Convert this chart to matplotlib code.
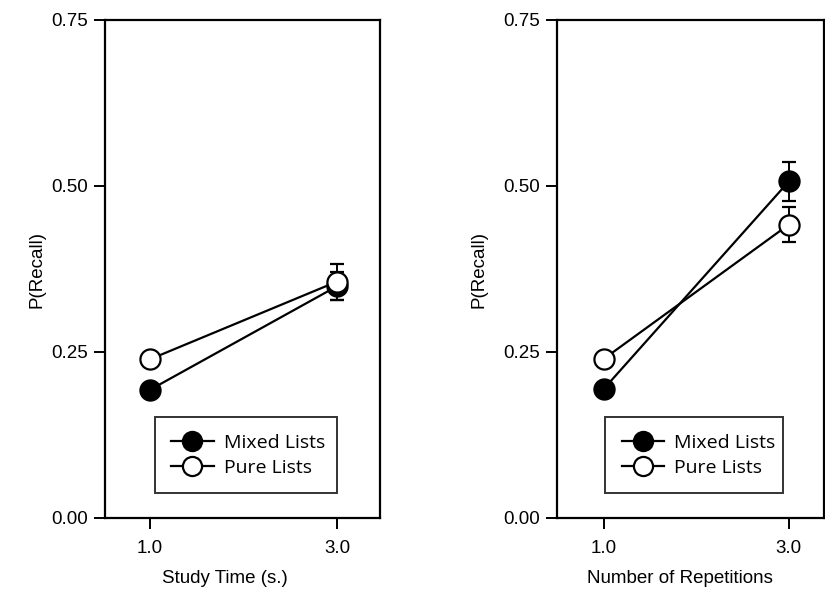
import numpy as np
import matplotlib
matplotlib.use("Agg")
import matplotlib.pyplot as plt

plt.rcParams['font.family'] = ['Liberation Sans', 'DejaVu Sans']

x_vals = [1.0, 3.0]
x_ticklabels = ['1.0', '3.0']
y_ticks = [0.00, 0.25, 0.50, 0.75]

# panel 1: study time
time_mixed = [0.193, 0.349]
time_mixed_err = [0.0, 0.021]
time_pure = [0.239, 0.356]
time_pure_err = [0.0, 0.027]

# panel 2: repetitions
rep_mixed = [0.195, 0.507]
rep_mixed_err = [0.0, 0.029]
rep_pure = [0.240, 0.442]
rep_pure_err = [0.0, 0.027]

xlabels = ['Study Time (s.)', 'Number of Repetitions']
legend_labels = ['Mixed Lists', 'Pure Lists']


def panel(ax, mixed, mixed_err, pure, pure_err, xlabel, xlim, pure_on_top, xlab_x, ylab_x):
    zp, zm = (5, 4) if pure_on_top else (3, 4)
    ax.errorbar(x_vals, pure, yerr=pure_err, color='black', marker='o', ms=14.5,
                mfc='white', mec='black', mew=1.6, lw=1.6, capsize=5, elinewidth=1.4,
                capthick=1.4, label=legend_labels[1], zorder=zp)
    ax.errorbar(x_vals, mixed, yerr=mixed_err, color='black', marker='o', ms=14.5,
                mfc='black', mec='black', mew=1.6, lw=1.6, capsize=5, elinewidth=1.4,
                capthick=1.4, label=legend_labels[0], zorder=zm)
    ax.set_xlim(*xlim)
    ax.set_ylim(0, 0.75)
    ax.set_xticks(x_vals)
    ax.set_xticklabels(x_ticklabels)
    ax.set_yticks(y_ticks)
    ax.set_yticklabels(['%.2f' % v for v in y_ticks])
    ax.tick_params(direction='out', length=8, width=1.4, labelsize=13.5, pad=4)
    ax.tick_params(axis='x', pad=8)
    for s in ax.spines.values():
        s.set_linewidth(1.6)
    ax.set_xlabel(xlabel, fontsize=13.5)
    ax.set_ylabel('P(Recall)', fontsize=13.5)
    ax.xaxis.set_label_coords(xlab_x, -0.105)
    ax.yaxis.set_label_coords(ylab_x, 0.5)
    h, l = ax.get_legend_handles_labels()
    h = [hh[0] for hh in h]
    leg = ax.legend(h[::-1], l[::-1], loc='lower left', bbox_to_anchor=(0.18, 0.05, 0.665, 0.155),
                    mode='expand', borderaxespad=0, frameon=True, fancybox=False, edgecolor='black',
                    prop={'family': 'Open Sans', 'size': 14}, handlelength=2.2,
                    markerscale=0.95, borderpad=0.85, labelspacing=0.35, handletextpad=0.5)
    leg.get_frame().set_linewidth(1.4)


fig = plt.figure(figsize=(8.25, 5.93), dpi=100)
ax1 = fig.add_axes([105 / 825, 75 / 593, 275 / 825, 498 / 593])
ax2 = fig.add_axes([557 / 825, 75 / 593, 267 / 825, 498 / 593])

panel(ax1, time_mixed, time_mixed_err, time_pure, time_pure_err, xlabels[0], (0.52, 3.46),
      True, 0.436, -0.215)
panel(ax2, rep_mixed, rep_mixed_err, rep_pure, rep_pure_err, xlabels[1], (0.49, 3.38),
      False, 0.46, -0.26)

fig.savefig('out.png', dpi=100)
